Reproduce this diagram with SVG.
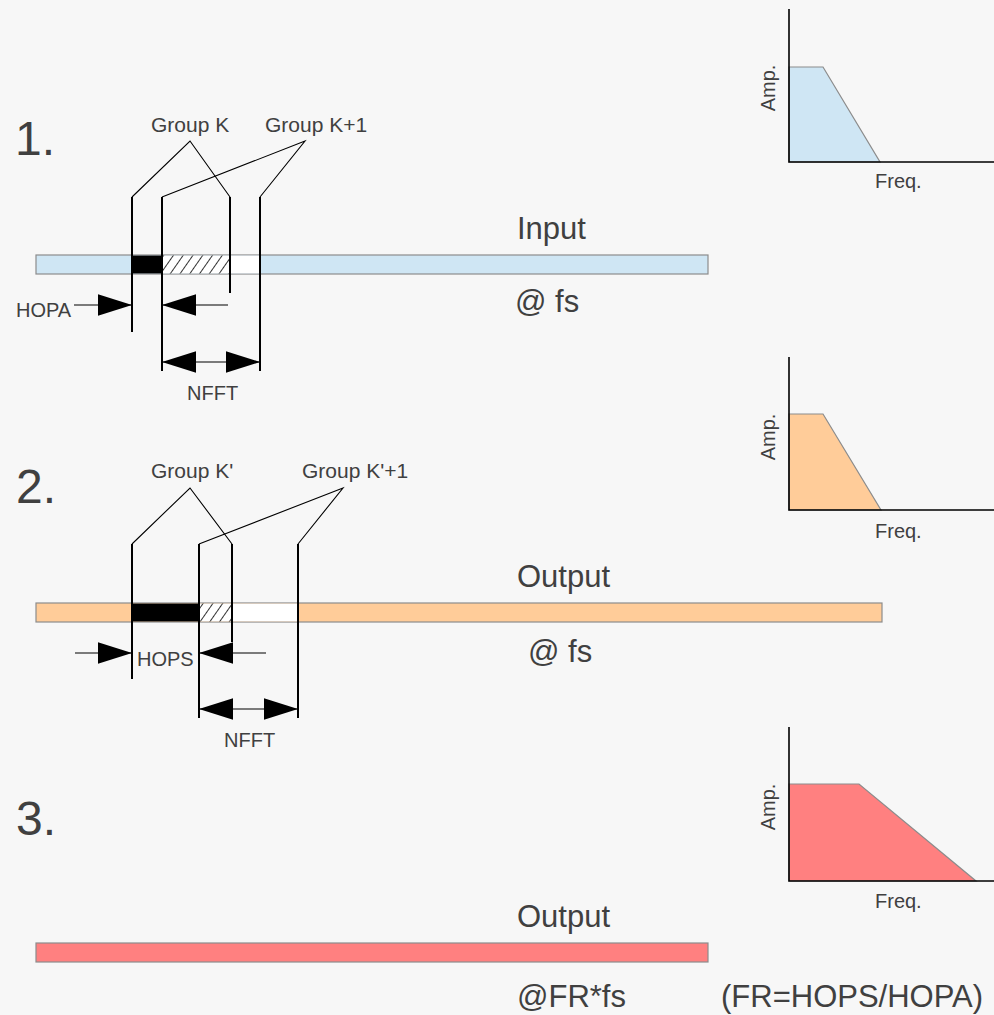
<svg xmlns="http://www.w3.org/2000/svg" width="994" height="1015" viewBox="0 0 994 1015">
<style>
text{font-family:"Liberation Sans",Arial,sans-serif;fill:#404040}
.num{font-size:48px}
.big{font-size:31px}
.lbl{font-size:21px}
.sm{font-size:20px}
.bar{stroke:#8c8c8c;stroke-width:1.2}
.seg{stroke:none}
.vl{stroke:#000;stroke-width:2;fill:none}
.dg{stroke:#000;stroke-width:1.1;fill:none}
.ar{stroke:#000;stroke-width:1.2;fill:none}
.axis{stroke:#000;stroke-width:1.6;fill:none}
.trap{stroke:#8c8c8c;stroke-width:1.2}
</style>
<defs>
<marker id="tri" markerUnits="userSpaceOnUse" markerWidth="34" markerHeight="22" viewBox="0 0 33 21" refX="33" refY="10.5" orient="auto-start-reverse">
<path d="M0,0 L33,10.5 L0,21 Z" fill="#000"/>
</marker>
<pattern id="hatch" patternUnits="userSpaceOnUse" width="8" height="8" patternTransform="rotate(35)">
<rect width="8" height="8" fill="#fff"/>
<line x1="0" y1="0" x2="0" y2="8" stroke="#000" stroke-width="1.6"/>
</pattern>
</defs>
<rect width="994" height="1015" fill="#f7f7f7"/>

<g id="section1">
<text class="num" x="15" y="155">1.</text>
<g id="input-bar">
<rect class="bar" x="36" y="255" width="672" height="19" fill="#cfe6f4"/>
<rect class="seg" x="132" y="255.6" width="30" height="17.8" fill="#000"/>
<rect class="seg" x="162" y="255.6" width="68" height="17.8" fill="url(#hatch)"/>
<rect class="seg" x="230" y="255.6" width="30" height="17.8" fill="#fff"/>
</g>
<text class="big" x="517" y="239">Input</text>
<text class="big" x="515" y="312">@ fs</text>
<text class="lbl" x="151" y="132">Group K</text>
<text class="lbl" x="265" y="132">Group K+1</text>
<text class="sm" x="16" y="317">HOPA</text>
<text class="sm" x="187" y="400">NFFT</text>
</g>

<g id="section2">
<text class="num" x="16" y="503">2.</text>
<g id="output-bar">
<rect class="bar" x="36" y="603" width="846" height="19" fill="#ffcc99"/>
<rect class="seg" x="132" y="603.6" width="67" height="17.8" fill="#000"/>
<rect class="seg" x="199" y="603.6" width="33" height="17.8" fill="url(#hatch)"/>
<rect class="seg" x="232" y="603.6" width="66" height="17.8" fill="#fff"/>
</g>
<text class="big" x="517" y="587">Output</text>
<text class="big" x="528" y="662">@ fs</text>
<text class="lbl" x="151" y="478">Group K'</text>
<text class="lbl" x="302" y="478">Group K'+1</text>
<text class="sm" x="137" y="666">HOPS</text>
<text class="sm" x="224" y="747">NFFT</text>
</g>

<g id="section3">
<text class="num" x="16" y="835">3.</text>
<rect id="resampled-bar" class="bar" x="36" y="943" width="672" height="19" fill="#ff8080"/>
<text class="big" x="517" y="927">Output</text>
<text class="big" x="517" y="1007">@FR*fs</text>
<text class="big" x="721" y="1007">(FR=HOPS/HOPA)</text>
</g>

<g id="chart1">
<polygon class="trap" points="789,162 789,67 823,67 880,162" fill="#cfe6f4"/>
<polyline class="axis" points="789,9 789,162 994,162"/>
<text class="sm" text-anchor="middle" transform="translate(775,88) rotate(-90)">Amp.</text>
<text class="sm" x="875" y="188">Freq.</text>
</g>
<g id="chart2">
<polygon class="trap" points="789,510 789,414 823,414 881,510" fill="#ffcc99"/>
<polyline class="axis" points="789,357 789,510 994,510"/>
<text class="sm" text-anchor="middle" transform="translate(775,437) rotate(-90)">Amp.</text>
<text class="sm" x="875" y="538">Freq.</text>
</g>
<g id="chart3">
<polygon class="trap" points="789,881 789,784 859,784 976,881" fill="#ff8080"/>
<polyline class="axis" points="789,727 789,881 994,881"/>
<text class="sm" text-anchor="middle" transform="translate(775,807) rotate(-90)">Amp.</text>
<text class="sm" x="875" y="908">Freq.</text>
</g>

<g id="connectors">
<polyline class="dg" points="132,197 190,141 230,197"/>
<polyline class="dg" points="162,197 305,141 260,197"/>
<line class="vl" x1="132" y1="197" x2="132" y2="332"/>
<line class="vl" x1="162" y1="197" x2="162" y2="371"/>
<line class="vl" x1="230" y1="197" x2="230" y2="293"/>
<line class="vl" x1="260" y1="197" x2="260" y2="371"/>
<line class="ar" x1="74" y1="305" x2="132" y2="305" marker-end="url(#tri)"/>
<line class="ar" x1="228" y1="305" x2="162" y2="305" marker-end="url(#tri)"/>
<line class="ar" x1="162" y1="362" x2="260" y2="362" marker-start="url(#tri)" marker-end="url(#tri)"/>
<polyline class="dg" points="132,544 190,488 232,544"/>
<polyline class="dg" points="199,544 343,488 298,544"/>
<line class="vl" x1="132" y1="544" x2="132" y2="679"/>
<line class="vl" x1="199" y1="544" x2="199" y2="718"/>
<line class="vl" x1="232" y1="544" x2="232" y2="642"/>
<line class="vl" x1="298" y1="544" x2="298" y2="718"/>
<line class="ar" x1="75" y1="653" x2="132" y2="653" marker-end="url(#tri)"/>
<line class="ar" x1="266" y1="653" x2="199" y2="653" marker-end="url(#tri)"/>
<line class="ar" x1="199" y1="709" x2="298" y2="709" marker-start="url(#tri)" marker-end="url(#tri)"/>
</g>
</svg>
